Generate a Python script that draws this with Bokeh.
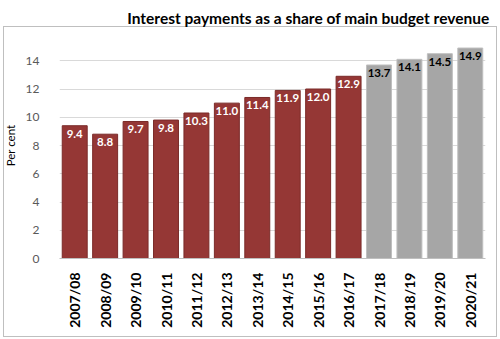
from bokeh.plotting import figure
from bokeh.models import ColumnDataSource, FixedTicker, Range1d
from bokeh.core.properties import value
from bokeh.embed import file_html
from bokeh.resources import INLINE

years = ["2007/08", "2008/09", "2009/10", "2010/11", "2011/12", "2012/13", "2013/14",
         "2014/15", "2015/16", "2016/17", "2017/18", "2018/19", "2019/20", "2020/21"]
values = [9.4, 8.8, 9.7, 9.8, 10.3, 11.0, 11.4, 11.9, 12.0, 12.9, 13.7, 14.1, 14.5, 14.9]
is_projection = [False] * 10 + [True] * 4
y_ticks = [0, 2, 4, 6, 8, 10, 12, 14]
title_text = "Interest payments as a share of main budget revenue"
y_label = "Per cent"

fill = ["#a6a6a6" if f else "#953735" for f in is_projection]
line = ["#bfbfbf" if f else "#7a2b29" for f in is_projection]
tcol = ["#000000" if f else "#ffffff" for f in is_projection]
src = ColumnDataSource(dict(x=years, top=values, fill=fill, line=line, tcol=tcol,
                            label=[f"{v:.1f}" for v in values]))

p = figure(x_range=years, y_range=Range1d(0, 16), width=500, height=339,
           output_backend="svg", toolbar_location=None, title=title_text,
           min_border_left=47, min_border_right=15, min_border_top=32, min_border_bottom=81)
p.vbar(x="x", top="top", width=0.82, source=src, fill_color="fill", line_color="line", line_width=1)
p.text(x="x", y="top", text="label", source=src, text_color="tcol", text_align="center",
       text_baseline="top", y_offset=4, text_font=value("Lato"), text_font_style="bold",
       text_font_size="11.5px")

p.title.align = "right"
p.title.text_font = "Lato"
p.title.text_font_style = "bold"
p.title.text_font_size = "15.5px"
p.title.text_color = "#000000"
p.title.standoff = 12
p.title.offset = -4

p.border_fill_color = None
p.background_fill_color = "white"
c = "#bfbfbf"
g = f"linear-gradient({c},{c})"
p.styles = {
    "background": (f"{g} 3px 26px / 494px 1px no-repeat, "
                   f"{g} 3px 336px / 494px 1px no-repeat, "
                   f"{g} 3px 26px / 1px 311px no-repeat, "
                   f"{g} 496px 26px / 1px 311px no-repeat, white")
}

p.outline_line_color = None
p.xgrid.grid_line_color = None
p.ygrid.grid_line_color = "#d9d9d9"
p.ygrid.ticker = FixedTicker(ticks=[2, 4, 6, 8, 10, 12, 14])
p.yaxis.ticker = FixedTicker(ticks=y_ticks)
p.yaxis.axis_line_color = None
p.yaxis.major_tick_line_color = None
p.yaxis.minor_tick_line_color = None
p.yaxis.major_label_standoff = 14
p.yaxis.major_label_text_font = "Lato"
p.yaxis.major_label_text_font_size = "12px"
p.yaxis.major_label_text_color = "#595959"
p.yaxis.axis_label = y_label
p.yaxis.axis_label_text_font = "Lato"
p.yaxis.axis_label_text_font_size = "11.5px"
p.yaxis.axis_label_text_font_style = "normal"
p.yaxis.axis_label_text_color = "#000000"
p.yaxis.axis_label_standoff = 6

p.xaxis.axis_line_color = "#bfbfbf"
p.xaxis.major_tick_line_color = None
p.xaxis.minor_tick_line_color = None
p.xaxis.major_label_orientation = 1.5708
p.xaxis.major_label_standoff = 8
p.xaxis.major_label_text_font = "Lato"
p.xaxis.major_label_text_font_size = "14px"
p.xaxis.major_label_text_font_style = "bold"
p.xaxis.major_label_text_color = "#000000"
p.x_range.range_padding = 0

open("out.html", "w").write(file_html(p, INLINE))
